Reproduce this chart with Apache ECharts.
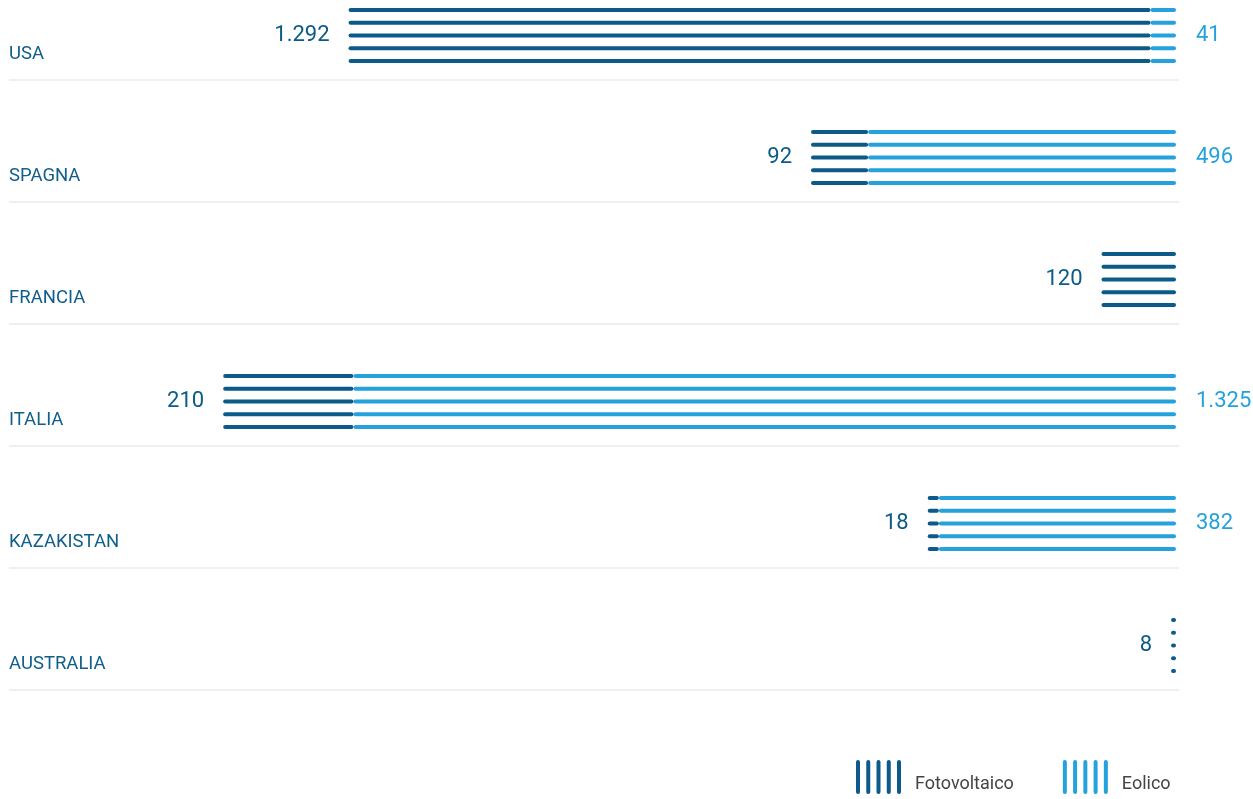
<!DOCTYPE html>
<html>
<head>
<meta charset="utf-8">
<script src="https://cdn.jsdelivr.net/npm/echarts@6/dist/echarts.min.js"></script>
<style>
body {
	margin: 0;
	background-color: #fff;
}
#main {
	width: 1253px;
	height: 799px;
}
</style>
</head>
<body>
<div id="main"></div>
<script>

var countries = ['USA', 'SPAGNA', 'FRANCIA', 'ITALIA', 'KAZAKISTAN', 'AUSTRALIA'];
var fotovoltaico = [1292, 92, 120, 210, 18, 8];
var eolico = [41, 496, 0, 1325, 382, 0];

var darkBlue = '#0b5a87';
var lightBlue = '#25a2dc';

// 5 thin lines per bar
var LINES = 5;

function fmt(v) {
	// italian thousands separator
	return String(v).replace(/\B(?=(\d{3})+(?!\d))/g, '.');
}

var chart = echarts.init(document.getElementById('main'));

var series = [];
for (var k = 0; k < LINES; k++) {
	series.push({
		name: 'Eolico',
		type: 'bar',
		stack: 's' + k,
		data: eolico,
		barWidth: 4,
		barGap: '219%',
		itemStyle: { color: lightBlue, borderRadius: 2 },
		label: {
			show: k === 2,
			position: 'right',
			distance: 20,
			color: lightBlue,
			fontFamily: 'Roboto',
			fontSize: 22,
			formatter: function (p) { return p.value ? fmt(p.value) : ''; }
		},
		silent: true
	});
}
for (var k = 0; k < LINES; k++) {
	series.push({
		name: 'Fotovoltaico',
		type: 'bar',
		stack: 's' + k,
		data: fotovoltaico,
		barWidth: 4,
		barGap: '219%',
		itemStyle: { color: darkBlue, borderRadius: 2 },
		label: {
			show: k === 2,
			position: 'left',
			distance: 19,
			color: darkBlue,
			fontFamily: 'Roboto',
			fontSize: 22,
			formatter: function (p) { return p.value ? fmt(p.value) : ''; }
		},
		silent: true
	});
}
// empty series so the separator grid gets drawn
series.push({
	type: 'line',
	xAxisIndex: 1,
	yAxisIndex: 1,
	data: []
});

var iconPath = 'path://';
for (var i = 0; i < 5; i++) {
	var x = i * 10.25;
	iconPath += 'M' + x + ',2a2,2 0 0 1 4,0v30a2,2 0 0 1 -4,0z';
}

option = {
	animation: false,
	textStyle: { fontFamily: 'Roboto' },
	legend: {
		data: ['Fotovoltaico', 'Eolico'],
		left: 851,
		top: 755,
		icon: iconPath,
		itemWidth: 45,
		itemHeight: 34,
		itemGap: 49,
		selectedMode: false,
		itemStyle: { borderWidth: 0 },
		formatter: function (name) {
			return '{gap| }\n{t|' + name + '}';
		},
		textStyle: {
			rich: {
				gap: { lineHeight: 14, fontSize: 10 },
				t: {
					color: '#444',
					fontSize: 18,
					lineHeight: 18,
					fontFamily: 'Roboto',
					padding: [0, 0, 0, 9]
				}
			}
		}
	},
	grid: [
		{ left: 9, right: 77, top: 35.5, bottom: 153.5 },
		{ left: 9, right: 74, top: 79.5, bottom: 109.5 }
	],
	xAxis: [
		{
			type: 'value',
			gridIndex: 0,
			inverse: true,
			min: 0,
			max: 1880,
			show: false
		},
		{
			type: 'value',
			gridIndex: 1,
			min: 0,
			max: 1,
			show: false
		}
	],
	yAxis: [
		{
			type: 'category',
			gridIndex: 0,
			data: countries,
			inverse: true,
			boundaryGap: false,
			position: 'left',
			axisLine: { show: false, onZero: false },
			axisTick: { show: false },
			splitLine: { show: false },
			axisLabel: {
				inside: true,
				margin: 0,
				align: 'left',
				verticalAlign: 'middle',
				formatter: function (name) {
					return '{gap| }\n{c|' + name + '}';
				},
				rich: {
					gap: { lineHeight: 38, fontSize: 10 },
					c: {
						color: '#0f5e8c',
						fontFamily: 'Roboto',
						fontSize: 18.5,
						lineHeight: 18
					}
				}
			}
		},
		{
			type: 'value',
			gridIndex: 1,
			min: 0,
			max: 5,
			interval: 1,
			inverse: true,
			axisLine: { show: false },
			axisTick: { show: false },
			axisLabel: { show: false },
			splitLine: { show: true, lineStyle: { color: '#efefef', width: 2 } }
		}
	],
	series: series
};

chart.setOption(option);

</script>
</body>
</html>
